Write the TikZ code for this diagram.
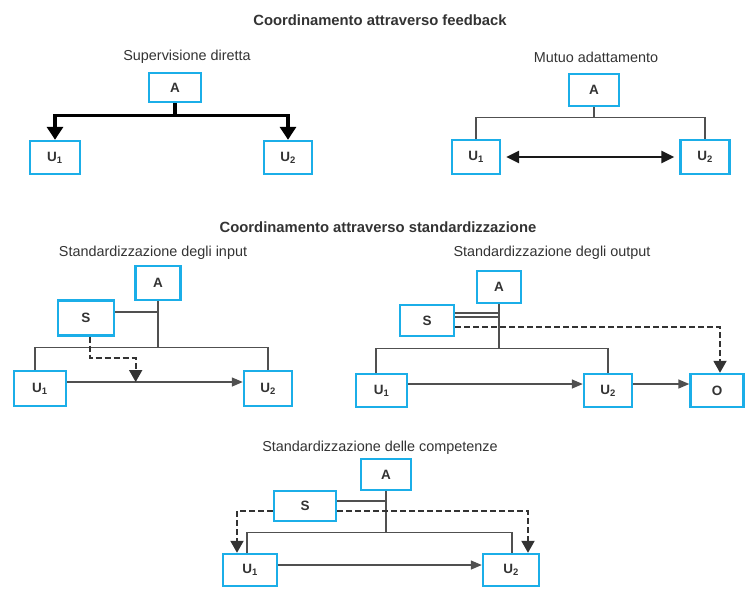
\documentclass[tikz,border=0pt]{standalone}
\usepackage{fontspec}
\setmainfont{Liberation Sans}
\usetikzlibrary{arrows.meta,calc,shadows}

\definecolor{boxcyan}{HTML}{1BAEE8}
\definecolor{ink}{HTML}{333333}
\definecolor{wiregray}{HTML}{505050}

\tikzset{
  unit/.style={draw=boxcyan, line width=2.4pt, fill=white, inner sep=0pt,
    font=\bfseries\fontsize{13.5}{14}\selectfont, text=ink,
    drop shadow={shadow xshift=1.3pt, shadow yshift=-1.3pt, fill=boxcyan!35, opacity=1}},
  caption/.style={font=\fontsize{14.4}{15}\selectfont, text=ink},
  heading/.style={font=\bfseries\fontsize{14.8}{15}\selectfont, text=ink},
  wire/.style={draw=wiregray, line width=1.4pt},
  flow/.style={wire, -{Triangle[length=11pt,width=9pt]}},
  dashflow/.style={draw=ink, line width=1.9pt, dash pattern=on 6pt off 3pt,
    -{Triangle[length=12pt,width=13pt]}},
  boss/.style={draw=black, line width=3.3pt, -{Triangle[length=13pt,width=16pt]}},
  mutual/.style={draw=black!90, line width=2.7pt,
    {Triangle[length=13pt,width=12pt]}-{Triangle[length=13pt,width=12pt]},
    shorten <=5pt, shorten >=5pt},
}

\begin{document}
\begin{tikzpicture}[x=1pt,y=-1pt]
\useasboundingbox (0,0) rectangle (746,589);

% ---------- Coordinamento attraverso feedback ----------
\node[heading] (t1) at (380,20) {Coordinamento attraverso feedback};

% Supervisione diretta
\node[caption] (c1) at (187,57) {Supervisione diretta};
\node[unit, minimum width=52pt, minimum height=29pt] (sdA)  at (175,87.5)  {A};
\node[unit, minimum width=50pt, minimum height=33pt] (sdU1) at (55,157.5)  {U\textsubscript{1}};
\node[unit, minimum width=48pt, minimum height=33pt] (sdU2) at (288,157.5) {U\textsubscript{2}};
\draw[boss] (sdA.south) -- ++(0,12) -| (sdU1.north);
\draw[boss] (sdA.south) -- ++(0,12) -| (sdU2.north);

% Mutuo adattamento
\node[caption] (c2) at (596,57) {Mutuo adattamento};
\node[unit, minimum width=50pt, minimum height=32pt] (maA)  at (594,90)  {A};
\node[unit, minimum width=48pt, minimum height=34pt] (maU1) at (476,157) {U\textsubscript{1}};
\node[unit, minimum width=49pt, minimum height=34pt] (maU2) at (705,157) {U\textsubscript{2}};
\draw[wire] (maA.south) -- ++(0,10) coordinate (maJ);
\draw[wire] (maU1.north) |- (maJ) -| (maU2.north);
\draw[mutual] (maU1.east) -- (maU2.west);

% ---------- Coordinamento attraverso standardizzazione ----------
\node[heading] (t2) at (378,227) {Coordinamento attraverso standardizzazione};

% Standardizzazione degli input
\node[caption] (c3) at (153,253) {Standardizzazione degli input};
\node[unit, minimum width=45pt, minimum height=34pt] (iA)  at (158,283)   {A};
\node[unit, minimum width=56pt, minimum height=35pt] (iS)  at (86,318)    {S};
\node[unit, minimum width=52pt, minimum height=35pt] (iU1) at (40,388.5)  {U\textsubscript{1}};
\node[unit, minimum width=48pt, minimum height=35pt] (iU2) at (268,388.5) {U\textsubscript{2}};
\draw[wire] (iA.south) -- ++(0,46) coordinate (iBus);
\draw[wire] ([yshift=6pt]iS.east) -| (iBus);
\draw[wire] ([xshift=-5pt]iU1.north) |- (iBus) -| (iU2.north);
\draw[flow] ([yshift=6.5pt]iU1.east) -- ([yshift=6.5pt]iU2.west)
  coordinate[pos=0.39] (iTap);
\draw[dashflow] ([xshift=4pt]iS.south) -- ++(0,21.5) -| (iTap);

% Standardizzazione degli output
\node[caption] (c4) at (552,253) {Standardizzazione degli output};
\node[unit, minimum width=44pt, minimum height=32pt] (oA)  at (499,287)   {A};
\node[unit, minimum width=54pt, minimum height=31pt] (oS)  at (427,320.5) {S};
\node[unit, minimum width=51pt, minimum height=33pt] (oU1) at (381.5,390.5) {U\textsubscript{1}};
\node[unit, minimum width=48pt, minimum height=33pt] (oU2) at (608,390.5) {U\textsubscript{2}};
\node[unit, minimum width=53pt, minimum height=33pt] (oO)  at (717,390.5) {O};
\draw[wire] (oA.south) -- ++(0,44) coordinate (oBus);
\draw[wire] ([yshift=7.5pt]oS.east) -| (oBus);
\draw[wire] ([yshift=3.5pt]oS.east) -| (oBus);
\draw[wire] ([xshift=-5.5pt]oU1.north) |- (oBus) -| (oU2.north);
\draw[dashflow] ([yshift=-6.5pt]oS.east) -| ([xshift=3pt]oO.north);
\draw[flow] ([yshift=6.5pt]oU1.east) -- ([yshift=6.5pt]oU2.west);
\draw[flow] ([yshift=6.5pt]oU2.east) -- ([yshift=6.5pt]oO.west);

% Standardizzazione delle competenze
\node[caption] (c5) at (380,448) {Standardizzazione delle competenze};
\node[unit, minimum width=50pt, minimum height=31pt] (cA)  at (386,474.5) {A};
\node[unit, minimum width=62pt, minimum height=30pt] (cS)  at (305,506)   {S};
\node[unit, minimum width=54pt, minimum height=32pt] (cU1) at (250,570)   {U\textsubscript{1}};
\node[unit, minimum width=56pt, minimum height=32pt] (cU2) at (511,570)   {U\textsubscript{2}};
\draw[wire] (cA.south) -- ++(0,41) coordinate (cBus);
\draw[wire] ([yshift=5pt]cS.east) -| (cBus);
\draw[wire] ([xshift=-3pt]cU1.north) |- (cBus) -| ([xshift=1pt]cU2.north);
\draw[dashflow] ([yshift=-5pt]cS.west) -| ([xshift=-13pt]cU1.north);
\draw[dashflow] ([yshift=-5pt]cS.east) -| ([xshift=17pt]cU2.north);
\draw[flow] ([yshift=5pt]cU1.east) -- ([yshift=5pt]cU2.west);
\end{tikzpicture}
\end{document}
